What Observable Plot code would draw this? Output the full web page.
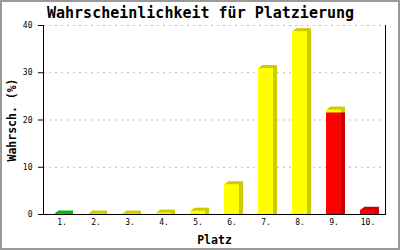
<!DOCTYPE html>
<html><head><meta charset="utf-8">
<script src="https://cdn.jsdelivr.net/npm/d3@7"></script>
<script src="https://cdn.jsdelivr.net/npm/@observablehq/plot@0.6"></script>
<style>
body{margin:0;background:#fff}
#chart svg{display:block;outline:2px solid #999;outline-offset:-2px}
</style>
</head><body><div id="chart"></div>
<script>
const places = ["1.","2.","3.","4.","5.","6.","7.","8.","9.","10."];
const greenValues  = [0.1, 0, 0, 0, 0, 0, 0, 0, 0, 0];
const yellowValues = [0, 0.1, 0.1, 0.3, 0.7, 6.3, 30.9, 38.7, 0.6, 0];
const redValues    = [0, 0, 0, 0, 0, 0, 0, 0, 21.5, 0.9];
const yTicks = [0, 10, 20, 30, 40];
const title = "Wahrscheinlichkeit für Platzierung";
const xLabel = "Platz";
const yLabel = "Wahrsch. (%)";
const seriesColors = {red: ["#ff0000", "#cc0000"], yellow: ["#ffff00", "#cccc00"], green: ["#00ee00", "#00bb00"]};

const rows = [];
for (const [series, values] of [["red", redValues], ["yellow", yellowValues], ["green", greenValues]]) {
  values.forEach((v, i) => { if (v > 0) rows.push({place: places[i], series, value: v}); });
}

// depth layers of the pseudo-3D bars (pixel offsets: styling only)
const depth = [1, 2, 3, 4];
const backMarks = depth.map(k => Plot.barY(rows, {
  x: "place", y: "value", fill: d => seriesColors[d.series][1],
  dx: k, dy: -0.75 * k, inset: 0, insetBottom: -0.75 * k
}));

const font = "'DejaVu Sans Mono', monospace";
const chart = Plot.plot({
  width: 400, height: 250,
  marginLeft: 43, marginRight: 15, marginTop: 25, marginBottom: 36,
  style: {fontFamily: font, fontSize: "8px", background: "#fff", color: "#000"},
  x: {domain: places, paddingInner: 0.56, paddingOuter: 0.28, label: null},
  y: {domain: [0, 40], label: null},
  color: {type: "identity"},
  marks: [
    Plot.gridY(yTicks, {stroke: "#bbb", strokeOpacity: 1, strokeDasharray: "2,4"}),
    ...backMarks,
    Plot.barY(rows, {x: "place", y: "value", fill: d => seriesColors[d.series][0], inset: 0}),
    Plot.ruleY([0], {stroke: "#000"}),
    Plot.frame({anchor: "left", stroke: "#000"}),
    Plot.frame({anchor: "right", stroke: "#000"}),
    Plot.axisY(yTicks, {tickSize: 5, tickPadding: 6, fontSize: 8, label: null}),
    Plot.axisX({tickSize: 0, tickPadding: 5, fontSize: 8, label: null}),
    Plot.text([title], {text: d => d, frameAnchor: "top", lineAnchor: "middle", dx: -14, dy: -12.5, fontSize: 15, fontWeight: "bold"}),
    Plot.text([xLabel], {text: d => d, frameAnchor: "bottom", lineAnchor: "middle", dy: 26, fontSize: 11.5, fontWeight: "bold"}),
    Plot.text([yLabel], {text: d => d, frameAnchor: "left", textAnchor: "middle", lineAnchor: "middle", rotate: -90, dx: -31, fontSize: 11.5, fontWeight: "bold"})
  ]
});
document.getElementById("chart").append(chart);
</script>
</body></html>
